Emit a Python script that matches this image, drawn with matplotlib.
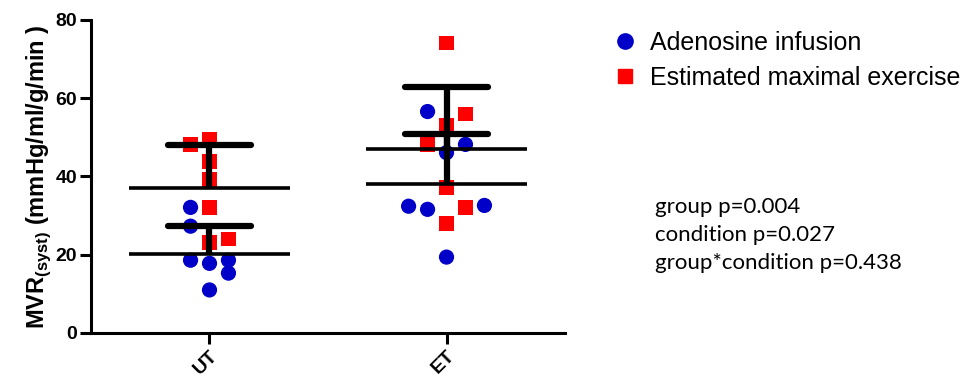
import numpy as np
import matplotlib
matplotlib.use("Agg")
import matplotlib.pyplot as plt
from matplotlib.lines import Line2D

plt.rcParams['font.family'] = ['Liberation Sans', 'DejaVu Sans']
plt.rcParams['mathtext.fontset'] = 'custom'
plt.rcParams['mathtext.rm'] = 'Liberation Sans'
plt.rcParams['mathtext.bf'] = 'Liberation Sans:bold'

# groups on the x axis
groups = ['UT', 'ET']

# values, with the column (jitter) slot of each point
ut_adeno = [32.1, 27.3, 18.6, 17.8, 18.6, 15.3, 11.0]
ut_adeno_slot = [-1, -1, -1, 0, 1, 1, 0]
ut_exer = [48.2, 49.4, 43.8, 39.2, 32.1, 23.2, 24.0]
ut_exer_slot = [-1, 0, 0, 0, 0, 0, 1]
et_adeno = [56.6, 48.2, 46.1, 32.4, 31.6, 32.6, 19.4]
et_adeno_slot = [-1, 1, 0, -2, -1, 2, 0]
et_exer = [74.1, 56.0, 53.0, 48.2, 37.2, 32.1, 28.0]
et_exer_slot = [0, 1, 0, -1, 0, 1, 0]

stats_lines = ['group p=0.004', 'condition p=0.027', 'group*condition p=0.438']

blue = '#0000c8'
red = '#ff0000'
jit = 0.08

fig = plt.figure(figsize=(9.68, 3.89), dpi=100)
ax = fig.add_axes([0.094, 0.144, 0.4897, 0.8046])

series = [
    (0, ut_adeno, ut_adeno_slot, 'o', blue),
    (0, ut_exer, ut_exer_slot, 's', red),
    (1, et_adeno, et_adeno_slot, 'o', blue),
    (1, et_exer, et_exer_slot, 's', red),
]
for xc, vals, slots, mk, col in series:
    xs = xc + jit * np.array(slots)
    ax.scatter(xs, vals, marker=mk, s=120 if mk == 'o' else 110, color=col,
               edgecolors='none', zorder=3)

# mean lines and upward SD bars
for xc, vals, slots, mk, col in series:
    m = np.mean(vals)
    sd = np.std(vals, ddof=1)
    ax.hlines(m, xc - 0.34, xc + 0.34, color='black', lw=2.6, zorder=4)
    ax.vlines(xc, m, m + sd, color='black', lw=4.5, zorder=4)
    ax.hlines(m + sd, xc - 0.175, xc + 0.175, color='black', lw=4.5, zorder=4,
              capstyle='round')

ax.set_xlim(-0.5, 1.5)
ax.set_ylim(0, 80)
ax.set_yticks([0, 20, 40, 60, 80])
ax.set_xticks([0, 1])
ax.set_xticklabels(groups, rotation=45, ha='right', rotation_mode='anchor',
                   fontsize=14, fontweight='bold')
for lab in ax.get_yticklabels():
    lab.set_fontsize(14)
    lab.set_fontweight('bold')
for s in ['top', 'right']:
    ax.spines[s].set_visible(False)
for s in ['left', 'bottom']:
    ax.spines[s].set_linewidth(2.2)
ax.tick_params(axis='both', width=2.2, length=8, pad=2)
ax.set_ylabel(r'MVR$_{\mathbf{(syst)}}$ (mmHg/ml/g/min )', fontsize=17,
              fontweight='bold', labelpad=2)

handles = [
    Line2D([], [], marker='o', ls='none', color=blue, markersize=11),
    Line2D([], [], marker='s', ls='none', color=red, markersize=10),
]
fig.legend(handles, ['Adenosine infusion', 'Estimated maximal exercise'],
           loc='upper left', bbox_to_anchor=(0.61, 0.978), frameon=False,
           fontsize=18, handletextpad=0.5, labelspacing=0.42, handlelength=1.0)

for i, t in enumerate(stats_lines):
    fig.text(0.677, 1 - (207 + 28 * i) / 389, t, fontsize=16,
             family=['Lato', 'DejaVu Sans'], va='center', ha='left')

fig.savefig('out.png', dpi=100)
